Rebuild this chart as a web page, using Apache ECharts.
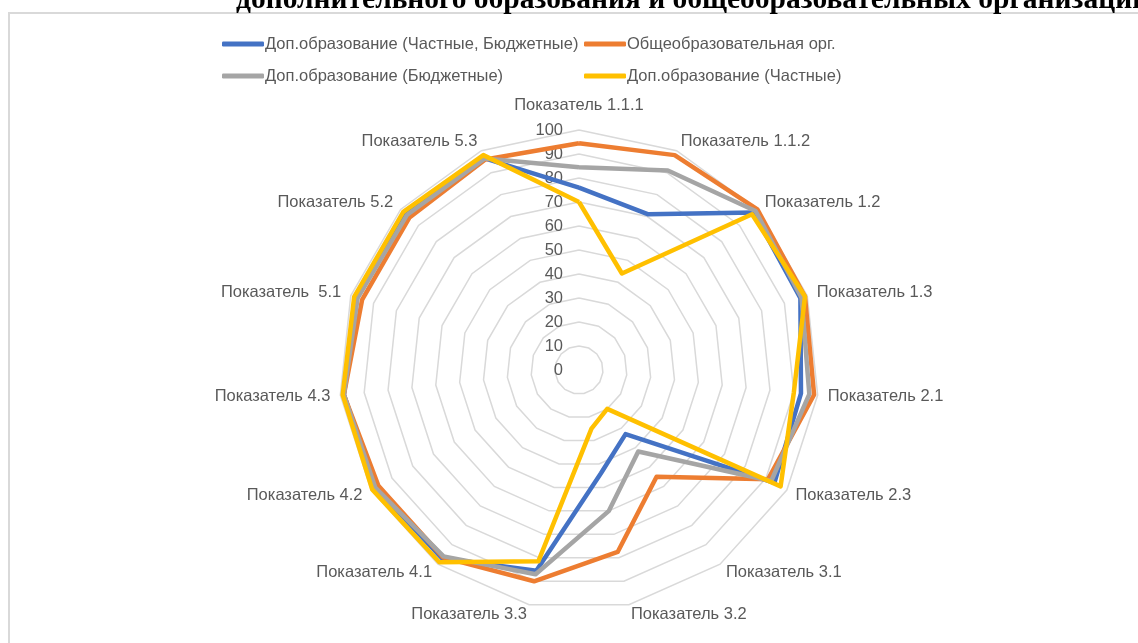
<!DOCTYPE html>
<html>
<head>
<meta charset="utf-8">
<script src="https://cdn.jsdelivr.net/npm/echarts@6/dist/echarts.min.js"></script>
<style>
  html, body { margin: 0; padding: 0; background: #fff; }
  #chart { width: 1138px; height: 643px; }
</style>
</head>
<body>
<div id="chart"></div>
<script>
// показатели по часовой стрелке, начиная сверху
var indicators = ['Показатель 1.1.1', 'Показатель 1.1.2', 'Показатель 1.2', 'Показатель 1.3',
    'Показатель 2.1', 'Показатель 2.3', 'Показатель 3.1', 'Показатель 3.2', 'Показатель 3.3',
    'Показатель 4.1', 'Показатель 4.2', 'Показатель 4.3', 'Показатель  5.1', 'Показатель 5.2',
    'Показатель 5.3']

var seriesNames = ['Доп.образование (Частные, Бюджетные)', 'Общеобразовательная орг.',
    'Доп.образование (Бюджетные)', 'Доп.образование (Частные)']

var dopAll = [76, 71, 98, 97, 93, 94, 33, 44, 85.5, 97, 98, 98.5, 97.5, 97, 96.5]
var general = [94.5, 98, 100, 99, 98.5, 91, 55, 77.5, 90, 96.5, 96.5, 98.5, 95, 95, 96]
var dopBudget = [84.5, 91, 99, 97.5, 96.5, 92.5, 42, 60, 87, 96, 98, 98.5, 97, 96.5, 96.5]
var dopPrivate = [70, 44, 97, 99, 90, 97, 20, 25, 81.5, 99, 99.5, 99, 98.5, 98.5, 98]

var colors = ['#4472C4', '#ED7D31', '#A5A5A5', '#FFC000']

// echarts рисует радар против часовой стрелки — переставляем порядок
var order = [0]
for (var i = indicators.length - 1; i > 0; i--) order.push(i)

function reorder(arr) {
    return order.map(function (k) { return arr[k] })
}

var radarIndicators = reorder(indicators).map(function (name, idx) {
    var item = { name: name, min: 0, max: 100 }
    if (idx === 0) {
        item.axisLabel = { show: true }
        item.nameGap = 16
    }
    return item
})

var allValues = [dopAll, general, dopBudget, dopPrivate]
var radarData = allValues.map(function (vals, k) {
    return {
        name: seriesNames[k],
        value: reorder(vals),
        itemStyle: { color: colors[k] },
        lineStyle: { color: colors[k], width: 4.5, join: 'round' }
    }
})

var legendText = { color: '#595959', fontSize: 16.5, fontFamily: 'Liberation Sans', lineHeight: 18, padding: [0, 0, 0, -4] }

var chart = echarts.init(document.getElementById('chart'))
chart.setOption({
    animation: false,
    graphic: [
        {
            type: 'rect',
            shape: { x: 9, y: 13, width: 1200, height: 700 },
            style: { fill: 'none', stroke: '#d9d9d9', lineWidth: 2 }
        },
        {
            type: 'text',
            x: 236,
            y: 15,
            style: {
                text: 'дополнительного образования и общеобразовательных организаций',
                font: 'bold 29.5px "Liberation Serif"',
                fill: '#000',
                verticalAlign: 'bottom'
            }
        }
    ],
    legend: [
        {
            data: [seriesNames[0], seriesNames[2]],
            orient: 'vertical',
            left: 217,
            top: 30,
            itemGap: 14,
            itemWidth: 42,
            itemHeight: 5,
            icon: 'roundRect',
            textStyle: legendText
        },
        {
            data: [seriesNames[1], seriesNames[3]],
            orient: 'vertical',
            left: 579,
            top: 30,
            itemGap: 14,
            itemWidth: 42,
            itemHeight: 5,
            icon: 'roundRect',
            textStyle: legendText
        }
    ],
    radar: {
        center: [579, 370],
        radius: 240,
        shape: 'polygon',
        splitNumber: 10,
        nameGap: 10,
        indicator: radarIndicators,
        axisName: { color: '#595959', fontSize: 16.5, fontFamily: 'Liberation Sans' },
        axisLine: { show: false },
        axisTick: { show: false },
        axisLabel: { show: false, color: '#595959', fontSize: 16.5, fontFamily: 'Liberation Sans', margin: 16, padding: [4, 0, 0, 0] },
        splitLine: { lineStyle: { color: '#d9d9d9', width: 1.5 } },
        splitArea: { show: false }
    },
    series: [{
        type: 'radar',
        symbol: 'none',
        data: radarData
    }]
})
</script>
</body>
</html>
